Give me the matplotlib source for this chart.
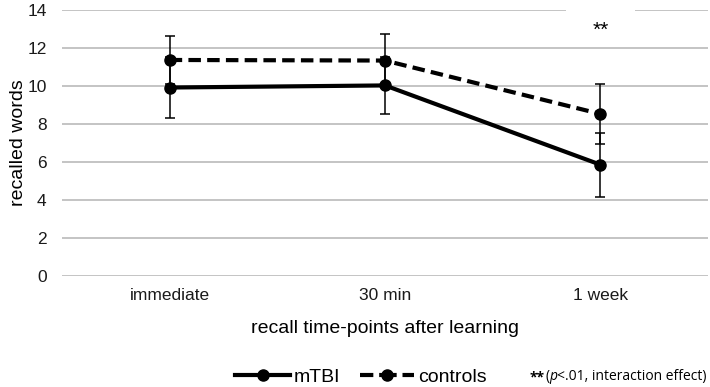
import matplotlib

matplotlib.use("Agg")
import matplotlib.pyplot as plt  # noqa: E402
from matplotlib.lines import Line2D  # noqa: E402
from matplotlib.patches import Rectangle  # noqa: E402

plt.rcParams["font.family"] = ["Liberation Sans", "DejaVu Sans"]

timepoints = ["immediate", "30 min", "1 week"]
mtbi_mean = [9.92, 10.03, 5.86]
mtbi_err = [1.60, 1.48, 1.69]
ctrl_mean = [11.37, 11.34, 8.53]
ctrl_err = [1.28, 1.41, 1.56]
yticks = [0, 2, 4, 6, 8, 10, 12, 14]

DASH = (0, (3.0, 1.5))

fig = plt.figure(figsize=(7.1, 3.87), dpi=100)
ax = fig.add_axes([62 / 710, 1 - 276 / 387, 646 / 710, 266 / 387])

x = list(range(len(timepoints)))
ax.errorbar(x, ctrl_mean, yerr=ctrl_err, color="black", lw=3.0, ls=DASH,
            marker="o", ms=8, elinewidth=1.1, capsize=3.5, capthick=1.1, zorder=3)
ax.errorbar(x, mtbi_mean, yerr=mtbi_err, color="black", lw=3.0, ls="-",
            marker="o", ms=8, elinewidth=1.1, capsize=3.5, capthick=1.1, zorder=4)

ax.set_xlim(-0.5, 2.5)
ax.set_ylim(0, 14)
ax.set_yticks(yticks)
ax.set_xticks(x)
ax.set_xticklabels(timepoints)
ax.tick_params(length=0, labelsize=12.5, colors="#1a1a1a")
ax.tick_params(axis="x", pad=9)
ax.tick_params(axis="y", pad=11)
ax.grid(axis="y", color="#BFBFBF", lw=1.3)
ax.set_axisbelow(True)
for s in ax.spines.values():
    s.set_visible(False)
ax.set_ylabel("recalled words", fontsize=14, labelpad=0)
ax.set_xlabel("recall time-points after learning", fontsize=14, labelpad=12)

# significance marker on a white patch that hides the top gridline
ax.add_patch(Rectangle((1.84, 12.1), 0.32, 2.3, fc="white", ec="none",
                       zorder=2.5, clip_on=False))
ax.text(2.0, 12.95, "**", ha="center", va="center", fontsize=15, zorder=5)

handles = [
    Line2D([], [], color="black", lw=3.0, marker="o", ms=8),
    Line2D([], [], color="black", lw=3.0, ls=(1.0, (4.2, 1.4)), marker="o", ms=8),
]
fig.legend(handles, ["mTBI", "controls"], loc="center", ncol=2,
           bbox_to_anchor=(361 / 710, 1 - 377 / 387), frameon=False, fontsize=14,
           handlelength=2.8, handletextpad=0.2, columnspacing=1.0)

fnt = ["Open Sans", "DejaVu Sans"]
fs = 10
t1 = fig.text(530 / 710, 1 - 377 / 387, "**", fontsize=fs, family=fnt,
              weight="bold", va="center", ha="left")
t2 = ax.annotate("(", xy=(1, 0), xycoords=t1, va="bottom", ha="left",
                 fontsize=fs, family=fnt, annotation_clip=False)
t3 = ax.annotate("p", xy=(1, 0), xycoords=t2, va="bottom", ha="left",
                 fontsize=fs, family=fnt, style="italic", annotation_clip=False)
ax.annotate("<.01, interaction effect)", xy=(1, 0), xycoords=t3, va="bottom",
            ha="left", fontsize=fs, family=fnt, annotation_clip=False)

fig.savefig("out.png", dpi=100)
plt.close(fig)
